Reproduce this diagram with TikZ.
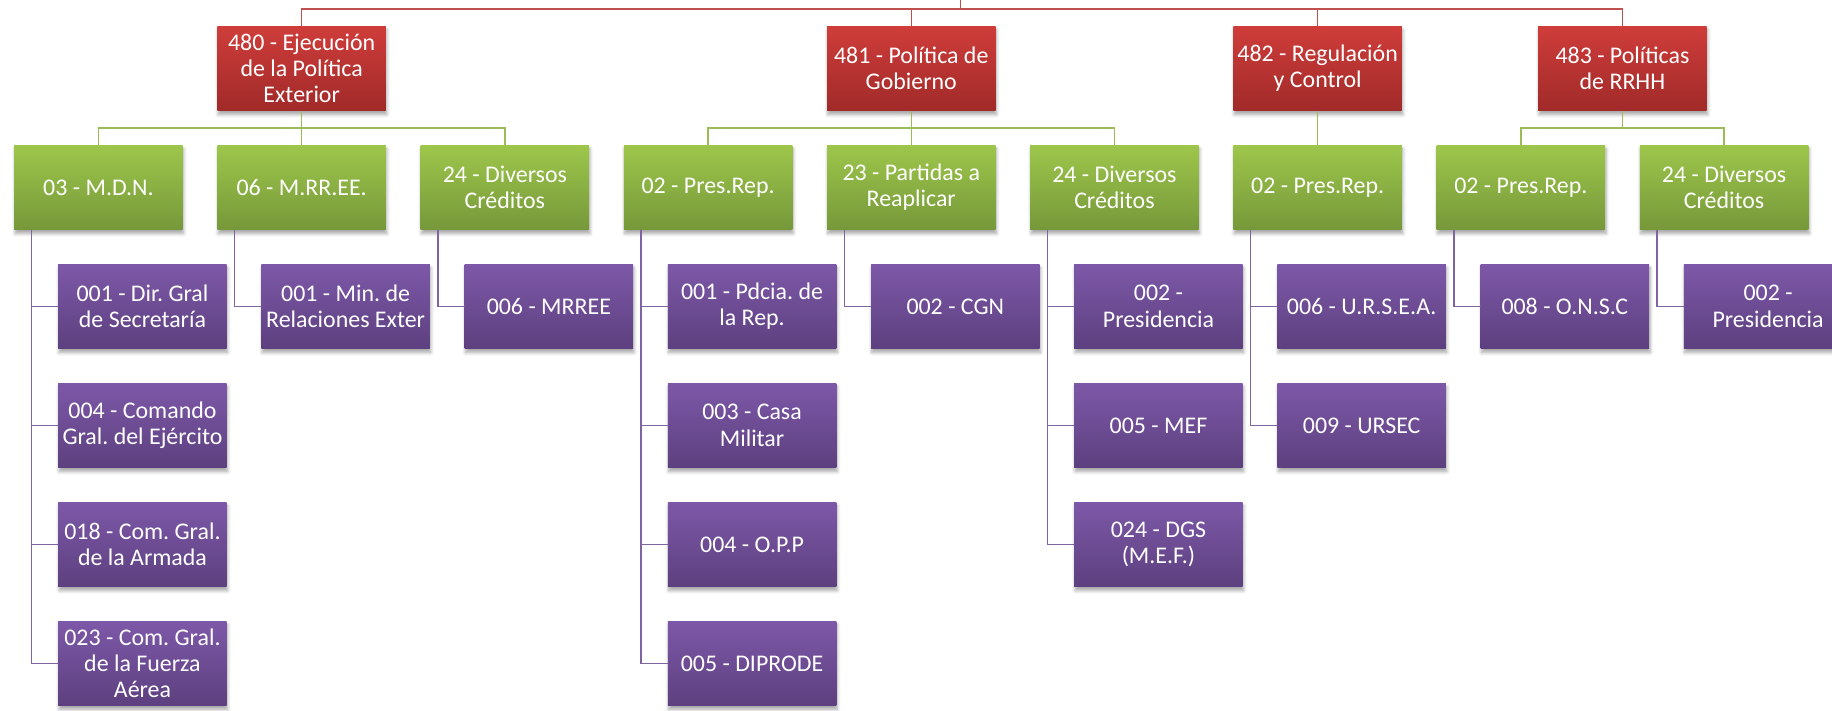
\documentclass[tikz,border=0pt]{standalone}
\usepackage{fontspec}
\setmainfont{Carlito}
\usetikzlibrary{positioning,calc,shadows.blur}

\definecolor{clrredtop}{HTML}{CF3D3A}
\definecolor{clrredbot}{HTML}{A02A29}
\definecolor{clrgreentop}{HTML}{9EC64B}
\definecolor{clrgreenbot}{HTML}{76983A}
\definecolor{clrpurpletop}{HTML}{7D58A8}
\definecolor{clrpurplebot}{HTML}{5D407F}
\definecolor{clrredline}{HTML}{C0504D}
\definecolor{clrgreenline}{HTML}{9BBB59}
\definecolor{clrpurpleline}{HTML}{8064A2}

\begin{document}
\begin{tikzpicture}[
    node distance=6.86mm and 6.94mm,
   mybox/.style = {
        rectangle, align=center, minimum width=33.7mm,
        minimum height=16.94mm, inner sep=0pt, outer sep=0pt,
        font=\fontsize{13.6}{15}\selectfont\frenchspacing, text=white,
        blur shadow={shadow xshift=0.5pt, shadow yshift=-2.2pt,
                     shadow blur steps=6, shadow opacity=35}},
  redbox/.style = {mybox, top color=clrredtop, bottom color=clrredbot},
greenbox/.style = {mybox, top color=clrgreentop, bottom color=clrgreenbot},
purplebox/.style = {mybox, top color=clrpurpletop, bottom color=clrpurplebot},
 redline/.style = {line width=0.8pt, draw=clrredline},
greenline/.style = {line width=0.8pt, draw=clrgreenline},
purpleline/.style = {line width=0.8pt, draw=clrpurpleline}
                    ]
\useasboundingbox (0,0) rectangle (36.64,-14.2);
% the row of green nodes
\node (g1) [greenbox] at (1.969,-3.747) {03 - M.D.N.};
\node (g2) [greenbox, right=of g1]  {06 - M.RR.EE.};
\node (g3) [greenbox, right=of g2]  {24 - Diversos\\Créditos};
\node (g4) [greenbox, right=of g3]  {02 - Pres.Rep.};
\node (g5) [greenbox, right=of g4]  {23 - Partidas a\\Reaplicar};
\node (g6) [greenbox, right=of g5]  {24 - Diversos\\Créditos};
\node (g7) [greenbox, right=of g6]  {02 - Pres.Rep.};
\node (g8) [greenbox, right=of g7]  {02 - Pres.Rep.};
\node (g9) [greenbox, right=of g8]  {24 - Diversos\\Créditos};
% the red nodes at the top
\coordinate (g89) at ($(g8.north)!0.5!(g9.north)$);
\node (r1) [redbox, above=of g2]   {480 - Ejecución\\de la Política\\Exterior};
\node (r2) [redbox, above=of g5]   {481 - Política de\\Gobierno};
\node (r3) [redbox, above=of g7]   {482 - Regulación\\y Control};
\node (r4) [redbox, above=of g89]  {483 - Políticas\\de RRHH};
% the purple columns
\node (u1a) [purplebox, below right=6.86mm and 8.8mm of g1.south west]
                                    {001 - Dir. Gral\\de Secretaría};
\node (u1b) [purplebox, below=of u1a] {004 - Comando\\Gral. del Ejército};
\node (u1c) [purplebox, below=of u1b] {018 - Com. Gral.\\de la Armada};
\node (u1d) [purplebox, below=of u1c] {023 - Com. Gral.\\de la Fuerza\\Aérea};
\node (u2a) [purplebox, below right=6.86mm and 8.8mm of g2.south west]
                                    {001 - Min. de\\Relaciones Exter};
\node (u3a) [purplebox, below right=6.86mm and 8.8mm of g3.south west]
                                    {006 - MRREE};
\node (u4a) [purplebox, below right=6.86mm and 8.8mm of g4.south west]
                                    {001 - Pdcia. de\\la Rep.};
\node (u4b) [purplebox, below=of u4a] {003 - Casa\\Militar};
\node (u4c) [purplebox, below=of u4b] {004 - O.P.P};
\node (u4d) [purplebox, below=of u4c] {005 - DIPRODE};
\node (u5a) [purplebox, below right=6.86mm and 8.8mm of g5.south west]
                                    {002 - CGN};
\node (u6a) [purplebox, below right=6.86mm and 8.8mm of g6.south west]
                                    {002 -\\Presidencia};
\node (u6b) [purplebox, below=of u6a] {005 - MEF};
\node (u6c) [purplebox, below=of u6b] {024 - DGS\\(M.E.F.)};
\node (u7a) [purplebox, below right=6.86mm and 8.8mm of g7.south west]
                                    {006 - U.R.S.E.A.};
\node (u7b) [purplebox, below=of u7a] {009 - URSEC};
\node (u8a) [purplebox, below right=6.86mm and 8.8mm of g8.south west]
                                    {008 - O.N.S.C};
\node (u9a) [purplebox, below right=6.86mm and 8.8mm of g9.south west]
                                    {002 -\\Presidencia};
% red lines at the top
\coordinate (root) at (19.206,0);
\draw[redline] (r1.north) -- ++(0,0.34) coordinate (rb) -| (r4.north);
\draw[redline] (r2.north) -- (r2.north |- rb);
\draw[redline] (r3.north) -- (r3.north |- rb);
\draw[redline] (root) -- (root |- rb);
% green lines
\draw[greenline] (r1.south) -- (g2.north);
\draw[greenline] (g1.north) -- ++(0,0.343) -| (g3.north);
\draw[greenline] (r2.south) -- (g5.north);
\draw[greenline] (g4.north) -- ++(0,0.343) -| (g6.north);
\draw[greenline] (r3.south) -- (g7.north);
\draw[greenline] (r4.south) -- ++(0,-0.343);
\draw[greenline] (g8.north) -- ++(0,0.343) -| (g9.north);
% purple lines
\draw[purpleline] ([xshift=3.44mm] g1.south west) |- (u1a.west);
\draw[purpleline] ([xshift=3.44mm] g1.south west) |- (u1b.west);
\draw[purpleline] ([xshift=3.44mm] g1.south west) |- (u1c.west);
\draw[purpleline] ([xshift=3.44mm] g1.south west) |- (u1d.west);
\draw[purpleline] ([xshift=3.44mm] g2.south west) |- (u2a.west);
\draw[purpleline] ([xshift=3.44mm] g3.south west) |- (u3a.west);
\draw[purpleline] ([xshift=3.44mm] g4.south west) |- (u4a.west);
\draw[purpleline] ([xshift=3.44mm] g4.south west) |- (u4b.west);
\draw[purpleline] ([xshift=3.44mm] g4.south west) |- (u4c.west);
\draw[purpleline] ([xshift=3.44mm] g4.south west) |- (u4d.west);
\draw[purpleline] ([xshift=3.44mm] g5.south west) |- (u5a.west);
\draw[purpleline] ([xshift=3.44mm] g6.south west) |- (u6a.west);
\draw[purpleline] ([xshift=3.44mm] g6.south west) |- (u6b.west);
\draw[purpleline] ([xshift=3.44mm] g6.south west) |- (u6c.west);
\draw[purpleline] ([xshift=3.44mm] g7.south west) |- (u7a.west);
\draw[purpleline] ([xshift=3.44mm] g7.south west) |- (u7b.west);
\draw[purpleline] ([xshift=3.44mm] g8.south west) |- (u8a.west);
\draw[purpleline] ([xshift=3.44mm] g9.south west) |- (u9a.west);
\end{tikzpicture}
\end{document}
